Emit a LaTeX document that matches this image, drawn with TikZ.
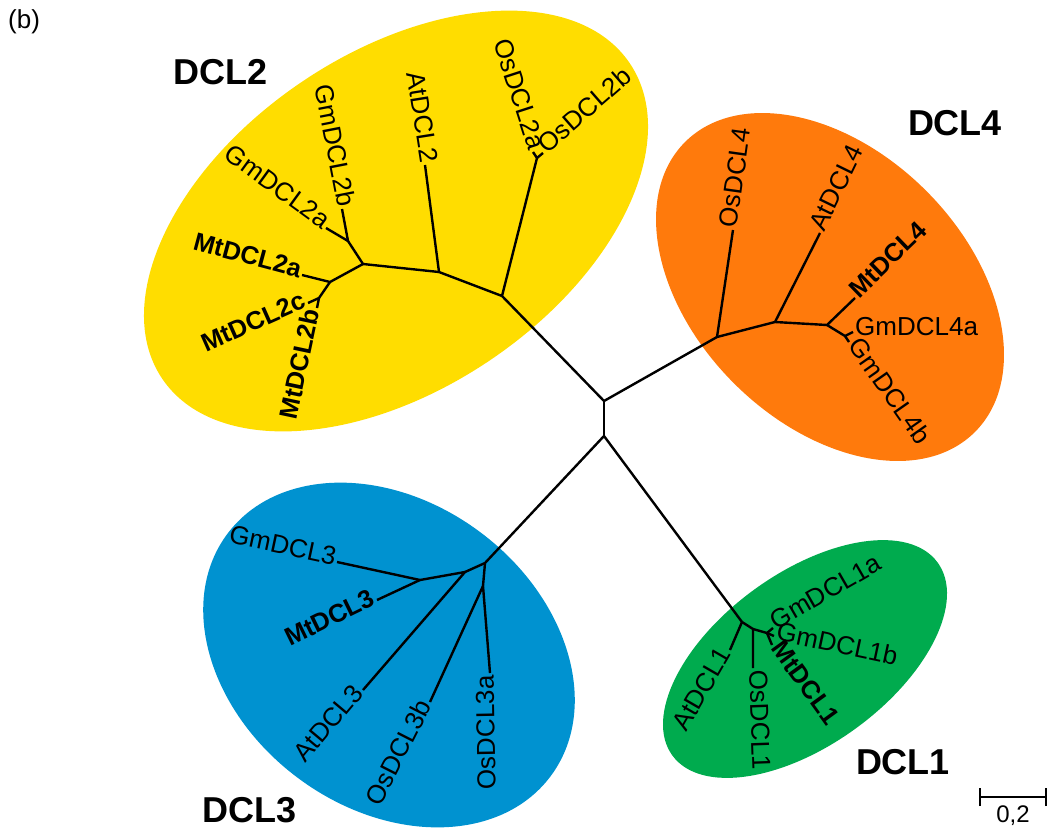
\documentclass[tikz,border=0pt]{standalone}
\usepackage{fontspec}
\setmainfont{Liberation Sans}
\definecolor{yellowc}{RGB}{255,221,0}
\definecolor{orangec}{RGB}{255,122,12}
\definecolor{bluec}{RGB}{0,146,208}
\definecolor{greenc}{RGB}{0,171,78}
\tikzset{
  br/.style={line width=2.4pt, line join=round},
  lf/.style={font=\fontsize{26}{30}\selectfont, inner sep=2pt, text height=0.72em, text depth=0pt},
  lfb/.style={lf, font=\fontsize{25.5}{30}\selectfont\bfseries},
  grp/.style={font=\fontsize{36}{40}\selectfont\bfseries, inner sep=0pt}
}
\begin{document}
\begin{tikzpicture}[x=1pt,y=-1pt]
\useasboundingbox (0,0) rectangle (1052,830);
% clade ellipses
\fill[yellowc, rotate around={34:(396,221)}] (396,221) ellipse [x radius=282, y radius=168];
\fill[orangec, rotate around={-45:(830,287)}] (830,287) ellipse [x radius=205, y radius=136];
\fill[bluec, rotate around={-37:(389,655)}] (389,655) ellipse [x radius=202, y radius=153];
\fill[greenc, rotate around={36:(805,659)}] (805,659) ellipse [x radius=164, y radius=86];

% coordinates
\coordinate (r1) at (604,401);
\coordinate (r2) at (604,436);
\coordinate (A) at (502,296);
\coordinate (G) at (717,337);
\coordinate (K) at (485,563);
\coordinate (O) at (742,622);
% DCL2
\coordinate (os) at (537,158);
\coordinate (tOs2a) at (533,152);
\coordinate (tOs2b) at (543,153);
\coordinate (B) at (439,272);
\coordinate (tAt2) at (425,165);
\coordinate (C) at (363,264);
\coordinate (D) at (348,241);
\coordinate (tGm2b) at (342,209);
\coordinate (tGm2a) at (326,228);
\coordinate (E) at (330,282);
\coordinate (tMt2a) at (302,275);
\coordinate (F) at (319,298);
\coordinate (tMt2c) at (308,303);
\coordinate (tMt2b) at (317,308);
% DCL4
\coordinate (tOs4) at (733,230);
\coordinate (H) at (775,322);
\coordinate (tAt4) at (820,233);
\coordinate (I) at (827,325);
\coordinate (tMt4) at (855,298);
\coordinate (J) at (845,336);
\coordinate (tGm4a) at (853,332);
\coordinate (tGm4b) at (849,342);
% DCL3
\coordinate (L) at (483,586);
\coordinate (tOs3a) at (490,673);
\coordinate (tOs3b) at (430,702);
\coordinate (M) at (465,572);
\coordinate (tAt3) at (363,690);
\coordinate (N) at (420,580);
\coordinate (tGm3) at (337,562);
\coordinate (tMt3) at (377,600);
% DCL1
\coordinate (tAt1) at (730,650);
\coordinate (P) at (753,629);
\coordinate (tOs1) at (753,668);
\coordinate (Q) at (767,633);
\coordinate (tGm1a) at (773,628);
\coordinate (tGm1b) at (774,636);
\coordinate (tMt1) at (772,645);

% branches
\draw[br] (A) -- (r1) -- (G);
\draw[br] (r1) -- (r2);
\draw[br] (K) -- (r2) -- (O);
\draw[br] (A) -- (os);
\draw[br] (tOs2a) -- (os) -- (tOs2b);
\draw[br] (A) -- (B) -- (tAt2);
\draw[br] (B) -- (C) -- (D) -- (tGm2b);
\draw[br] (D) -- (tGm2a);
\draw[br] (C) -- (E) -- (tMt2a);
\draw[br] (E) -- (F) -- (tMt2c);
\draw[br] (F) -- (tMt2b);
\draw[br] (G) -- (tOs4);
\draw[br] (G) -- (H) -- (tAt4);
\draw[br] (H) -- (I) -- (tMt4);
\draw[br] (I) -- (J) -- (tGm4a);
\draw[br] (J) -- (tGm4b);
\draw[br] (K) -- (L) -- (tOs3a);
\draw[br] (L) -- (tOs3b);
\draw[br] (K) -- (M) -- (tAt3);
\draw[br] (M) -- (N) -- (tGm3);
\draw[br] (N) -- (tMt3);
\draw[br] (O) -- (tAt1);
\draw[br] (O) -- (P) -- (tOs1);
\draw[br] (P) -- (Q) -- (tGm1a);
\draw[br] (Q) -- (tGm1b);
\draw[br] (Q) -- (tMt1);

% leaf labels DCL2
\node[lf, anchor=east, rotate=-72] (nOs2a) at (tOs2a) {OsDCL2a};
\node[lf, anchor=west, rotate=41] (nOs2b) at (tOs2b) {OsDCL2b};
\node[lf, anchor=east, rotate=-81] (nAt2) at (tAt2) {AtDCL2};
\node[lf, anchor=east, rotate=-79] (nGm2b) at (tGm2b) {GmDCL2b};
\node[lf, anchor=east, rotate=-36] (nGm2a) at (tGm2a) {GmDCL2a};
\node[lfb, anchor=east, rotate=-15] (nMt2a) at (tMt2a) {MtDCL2a};
\node[lfb, anchor=east, rotate=24] (nMt2c) at (tMt2c) {MtDCL2c};
\node[lfb, anchor=east, rotate=78] (nMt2b) at (tMt2b) {MtDCL2b};
% DCL4
\node[lf, anchor=west, rotate=82] (nOs4) at (tOs4) {OsDCL4};
\node[lf, anchor=west, rotate=64] (nAt4) at (tAt4) {AtDCL4};
\node[lfb, anchor=west, rotate=44] (nMt4) at (tMt4) {MtDCL4};
\node[lf, anchor=west] (nGm4a) at (tGm4a) {GmDCL4a};
\node[lf, anchor=west, rotate=-55] (nGm4b) at (tGm4b) {GmDCL4b};
% DCL3
\node[lf, anchor=east, rotate=-12] (nGm3) at (tGm3) {GmDCL3};
\node[lfb, anchor=east, rotate=26] (nMt3) at (tMt3) {MtDCL3};
\node[lf, anchor=east, rotate=50] (nAt3) at (tAt3) {AtDCL3};
\node[lf, anchor=east, rotate=63] (nOs3b) at (tOs3b) {OsDCL3b};
\node[lf, anchor=east, rotate=91] (nOs3a) at (tOs3a) {OsDCL3a};
% DCL1
\node[lf, anchor=west, rotate=30] (nGm1a) at (tGm1a) {GmDCL1a};
\node[lf, anchor=west, rotate=-12] (nGm1b) at (tGm1b) {GmDCL1b};
\node[lfb, anchor=west, rotate=-54] (nMt1) at (tMt1) {MtDCL1};
\node[lf, anchor=west, rotate=-88] (nOs1) at (tOs1) {OsDCL1};
\node[lf, anchor=east, rotate=60] (nAt1) at (tAt1) {AtDCL1};

% group labels
\node[grp] (g2) at (221,72) {DCL2};
\node[grp] (g4) at (955,123) {DCL4};
\node[grp] (g3) at (250,810) {DCL3};
\node[grp] (g1) at (903,762) {DCL1};

% panel label
\node[font=\fontsize{26}{30}\selectfont, anchor=north west, inner sep=0pt] (pb) at (8,9) {(b)};

% scale bar
\coordinate (s1) at (980,797);
\coordinate (s2) at (1046,797);
\draw[br] (s1) -- (s2);
\draw[br] ([yshift=-9pt]s1) -- ([yshift=9pt]s1);
\draw[br] ([yshift=-9pt]s2) -- ([yshift=9pt]s2);
\node[font=\fontsize{24}{28}\selectfont, anchor=north, inner sep=0pt] (sl) at (1013,806) {0,2};
\end{tikzpicture}
\end{document}
